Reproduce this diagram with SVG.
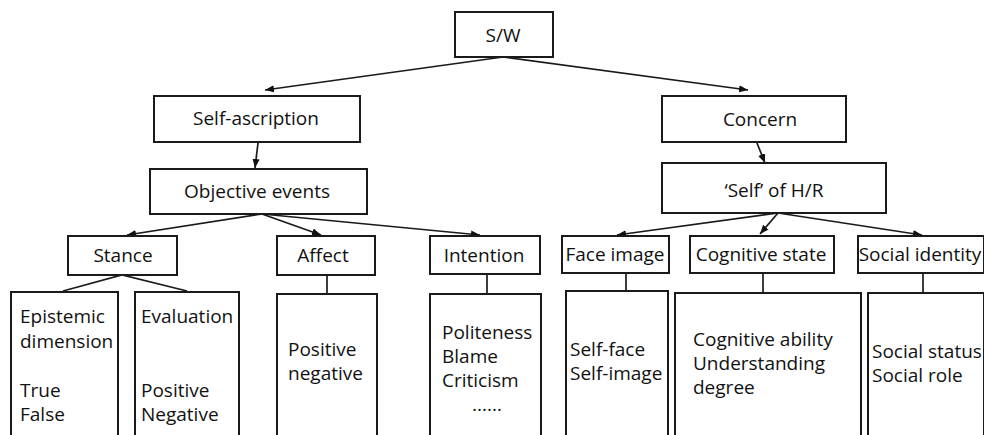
<svg xmlns="http://www.w3.org/2000/svg" width="984" height="435" viewBox="0 0 984 435">
<defs>
<marker id="ah" viewBox="0 0 10 10" refX="10" refY="5" markerWidth="9" markerHeight="9" markerUnits="userSpaceOnUse" orient="auto">
<path d="M0,1 L10,5 L0,9 z" fill="#111"/>
</marker>
<style>
rect{fill:#fff;stroke:#1a1a1a;stroke-width:2}
text{font-family:"Open Sans","Noto Sans",sans-serif;font-size:19px;fill:#111}
.c{text-anchor:middle}
.l{font-size:19px}
#connectors line,#connectors path{stroke:#1a1a1a;stroke-width:1.7;fill:none}
.a{marker-end:url(#ah)}
</style>
</defs>
<rect x="0" y="0" width="984" height="435" style="fill:#fff;stroke:none"/>
<g id="connectors">
<line class="a" x1="503" y1="57" x2="265" y2="90"/>
<line class="a" x1="503" y1="57" x2="748" y2="90"/>
<line class="a" x1="258" y1="143" x2="255" y2="168"/>
<line class="a" x1="757" y1="143" x2="765" y2="163"/>
<line class="a" x1="262" y1="214" x2="127" y2="235"/>
<line class="a" x1="262" y1="214" x2="321" y2="235"/>
<line class="a" x1="262" y1="214" x2="480" y2="235"/>
<line class="a" x1="778" y1="213" x2="617" y2="235"/>
<line class="a" x1="778" y1="213" x2="760" y2="234"/>
<line class="a" x1="778" y1="213" x2="922" y2="235"/>
<path d="M63,291 L122,275 L187,291"/>
<line x1="327" y1="275" x2="327" y2="294"/>
<line x1="487" y1="274" x2="487" y2="294"/>
<line x1="626" y1="273" x2="626" y2="291"/>
<line x1="763" y1="273" x2="763" y2="293"/>
<line x1="923" y1="273" x2="923" y2="293"/>
</g>
<g id="sw"><rect x="455" y="12" width="98" height="45"/><text class="c" x="503" y="42">S/W</text></g>
<g id="self-ascription"><rect x="154" y="96" width="206" height="46"/><text class="c" x="256" y="125">Self-ascription</text></g>
<g id="concern"><rect x="662" y="96" width="184" height="46"/><text class="c" x="760" y="126">Concern</text></g>
<g id="objective-events"><rect x="150" y="169" width="217" height="45"/><text class="c" x="257" y="198">Objective events</text></g>
<g id="self-hr"><rect x="662" y="163" width="224" height="50"/><text class="c" x="774" y="197">‘Self’ of H/R</text></g>
<g id="stance"><rect x="68" y="236" width="109" height="39"/><text class="c" x="123" y="262">Stance</text></g>
<g id="affect"><rect x="277" y="236" width="98" height="39"/><text class="c" x="323" y="262">Affect</text></g>
<g id="intention"><rect x="430" y="236" width="110" height="38"/><text class="c" x="484" y="262">Intention</text></g>
<g id="face-image"><rect x="562" y="236" width="107" height="37"/><text class="c" x="615" y="261">Face image</text></g>
<g id="cognitive-state"><rect x="690" y="236" width="144" height="37"/><text class="c" x="761" y="261">Cognitive state</text></g>
<g id="social-identity"><rect x="858" y="236" width="126" height="37"/><text class="c" x="920" y="261">Social identity</text></g>
<g id="epistemic"><rect x="11" y="292" width="107" height="150"/>
<text class="l" x="20" y="323">Epistemic</text><text class="l" x="20" y="348">dimension</text><text class="l" x="20" y="397">True</text><text class="l" x="20" y="421">False</text></g>
<g id="evaluation"><rect x="135" y="292" width="104" height="150"/>
<text class="l" x="141" y="323">Evaluation</text><text class="l" x="141" y="397">Positive</text><text class="l" x="141" y="421">Negative</text></g>
<g id="affect-values"><rect x="277" y="294" width="100" height="150"/>
<text class="l" x="288" y="356">Positive</text><text class="l" x="288" y="380">negative</text></g>
<g id="intention-values"><rect x="430" y="294" width="111" height="150"/>
<text class="l" x="442" y="339">Politeness</text><text class="l" x="442" y="363">Blame</text><text class="l" x="442" y="387">Criticism</text><text class="l" x="472" y="411">......</text></g>
<g id="face-values"><rect x="566" y="291" width="102" height="150"/>
<text class="l" x="570" y="356">Self-face</text><text class="l" x="570" y="380">Self-image</text></g>
<g id="cognitive-values"><rect x="675" y="293" width="186" height="150"/>
<text class="l" x="693" y="346">Cognitive ability</text><text class="l" x="693" y="370">Understanding</text><text class="l" x="693" y="394">degree</text></g>
<g id="social-values"><rect x="868" y="293" width="116" height="150"/>
<text class="l" x="872" y="358">Social status</text><text class="l" x="872" y="382">Social role</text></g>
</svg>
